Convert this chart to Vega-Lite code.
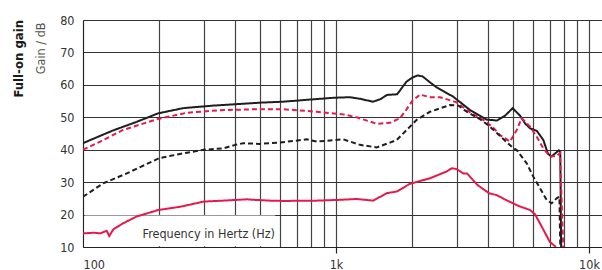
{
  "$schema": "https://vega.github.io/schema/vega-lite/v6.json",
  "width": 519,
  "height": 227,
  "autosize": {"type": "none"},
  "padding": {"left": 83, "top": 20, "right": 0, "bottom": 23},
  "config": {"view": {"stroke": null}, "font": "DejaVu Sans Condensed, Liberation Sans, sans-serif"},
  "title": {"text": "Full-on gain", "orient": "left", "anchor": "end", "frame": "group", "font": "DejaVu Sans Condensed, Liberation Sans, sans-serif", "fontSize": 13, "fontWeight": "bold", "color": "#1a1a1a", "offset": 8},
  "encoding": {
    "x": {
      "type": "quantitative",
      "scale": {"type": "log", "domain": [100, 11256], "nice": false},
      "axis": {
        "title": null,
        "values": [100, 200, 300, 400, 500, 600, 700, 800, 900, 1000, 2000, 3000, 4000, 5000, 6000, 7000, 8000, 9000, 10000],
        "grid": true, "gridColor": "#444", "gridWidth": 1.2,
        "domain": true, "domainColor": "#222",
        "ticks": true, "tickColor": "#222", "tickSize": 6, "tickWidth": 1.2,
        "tickOpacity": {"condition": {"test": "datum.value == 1000 || datum.value == 10000", "value": 1}, "value": 0},
        "labelExpr": "datum.value == 100 ? '100' : datum.value == 1000 ? '1k' : datum.value == 10000 ? '10k' : ''",
        "labelOverlap": false, "labelFontSize": 12.5, "labelColor": "#333", "labelPadding": 5
      }
    },
    "y": {
      "type": "quantitative",
      "scale": {"domain": [10, 80], "nice": false, "zero": false},
      "axis": {
        "values": [10, 20, 30, 40, 50, 60, 70, 80],
        "grid": true, "gridColor": "#333", "gridWidth": 1,
        "domain": true, "domainColor": "#222", "ticks": false,
        "labelFontSize": 12.5, "labelColor": "#333", "labelPadding": 9, "labelOverlap": false,
        "title": "Gain / dB", "titleFontSize": 12.5, "titleFontWeight": "normal", "titleColor": "#555",
        "titleAngle": 270, "titleX": -43, "titleY": 2, "titleAlign": "right", "titleBaseline": "middle"
      }
    }
  },
  "layer": [
    {
      "data": {"values": [{"f": 101.5, "f2": 575, "g": 10.25, "g2": 19.75}]},
      "mark": {"type": "rect", "fill": "white"},
      "encoding": {
        "x": {"field": "f"},
        "x2": {"field": "f2"},
        "y": {"field": "g"},
        "y2": {"field": "g2"}
      }
    },
    {
      "data": {"values": [
        {"s": "A", "f": 100, "g": 42}, {"s": "A", "f": 107, "g": 43}, {"s": "A", "f": 131, "g": 45.9}, {"s": "A", "f": 163, "g": 48.6}, {"s": "A", "f": 198, "g": 51.2}, {"s": "A", "f": 248, "g": 52.8}, {"s": "A", "f": 326, "g": 53.6}, {"s": "A", "f": 500, "g": 54.5}, {"s": "A", "f": 617, "g": 54.8}, {"s": "A", "f": 800, "g": 55.5}, {"s": "A", "f": 973, "g": 56.0}, {"s": "A", "f": 1131, "g": 56.2}, {"s": "A", "f": 1245, "g": 55.7}, {"s": "A", "f": 1400, "g": 54.8}, {"s": "A", "f": 1500, "g": 55.6}, {"s": "A", "f": 1590, "g": 56.9}, {"s": "A", "f": 1745, "g": 57.1}, {"s": "A", "f": 1900, "g": 61}, {"s": "A", "f": 2000, "g": 62.2}, {"s": "A", "f": 2100, "g": 62.9}, {"s": "A", "f": 2200, "g": 62.6}, {"s": "A", "f": 2350, "g": 60.8}, {"s": "A", "f": 2500, "g": 59.2}, {"s": "A", "f": 2900, "g": 56.4}, {"s": "A", "f": 3380, "g": 52.3}, {"s": "A", "f": 3940, "g": 49.3}, {"s": "A", "f": 4330, "g": 49.0}, {"s": "A", "f": 4660, "g": 50.5}, {"s": "A", "f": 4990, "g": 52.8}, {"s": "A", "f": 5340, "g": 50.5}, {"s": "A", "f": 5600, "g": 48.0}, {"s": "A", "f": 5850, "g": 46.6}, {"s": "A", "f": 6220, "g": 45.8}, {"s": "A", "f": 6600, "g": 43.0}, {"s": "A", "f": 6880, "g": 38.8}, {"s": "A", "f": 7100, "g": 37.9}, {"s": "A", "f": 7600, "g": 39.8}, {"s": "A", "f": 7700, "g": 39.5}, {"s": "A", "f": 7760, "g": 10},
        {"s": "B", "f": 100, "g": 40}, {"s": "B", "f": 117, "g": 42.5}, {"s": "B", "f": 144, "g": 46.1}, {"s": "B", "f": 196, "g": 49.4}, {"s": "B", "f": 257, "g": 51.4}, {"s": "B", "f": 348, "g": 52.2}, {"s": "B", "f": 500, "g": 52.5}, {"s": "B", "f": 617, "g": 52.5}, {"s": "B", "f": 839, "g": 51.7}, {"s": "B", "f": 1066, "g": 50.9}, {"s": "B", "f": 1207, "g": 50.0}, {"s": "B", "f": 1448, "g": 48.0}, {"s": "B", "f": 1635, "g": 48.3}, {"s": "B", "f": 1790, "g": 49.7}, {"s": "B", "f": 1903, "g": 52.5}, {"s": "B", "f": 2000, "g": 55.0}, {"s": "B", "f": 2148, "g": 57.0}, {"s": "B", "f": 2352, "g": 56.2}, {"s": "B", "f": 2577, "g": 56.2}, {"s": "B", "f": 3000, "g": 54.6}, {"s": "B", "f": 3390, "g": 51.5}, {"s": "B", "f": 3820, "g": 49.2}, {"s": "B", "f": 4184, "g": 46.8}, {"s": "B", "f": 4450, "g": 44.5}, {"s": "B", "f": 4873, "g": 42.5}, {"s": "B", "f": 5180, "g": 46.1}, {"s": "B", "f": 5420, "g": 49.7}, {"s": "B", "f": 5850, "g": 47.1}, {"s": "B", "f": 6215, "g": 44.0}, {"s": "B", "f": 6600, "g": 40.4}, {"s": "B", "f": 7000, "g": 38.0}, {"s": "B", "f": 7450, "g": 38.0}, {"s": "B", "f": 7680, "g": 39.0}, {"s": "B", "f": 7913, "g": 10},
        {"s": "C", "f": 100, "g": 25.5}, {"s": "C", "f": 120, "g": 29.6}, {"s": "C", "f": 149, "g": 32.7}, {"s": "C", "f": 200, "g": 37.4}, {"s": "C", "f": 242, "g": 38.7}, {"s": "C", "f": 300, "g": 40}, {"s": "C", "f": 358, "g": 40.4}, {"s": "C", "f": 400, "g": 41.5}, {"s": "C", "f": 430, "g": 42}, {"s": "C", "f": 500, "g": 41.8}, {"s": "C", "f": 600, "g": 42.2}, {"s": "C", "f": 766, "g": 43.2}, {"s": "C", "f": 839, "g": 42.5}, {"s": "C", "f": 1069, "g": 43.2}, {"s": "C", "f": 1244, "g": 41.5}, {"s": "C", "f": 1448, "g": 40.7}, {"s": "C", "f": 1635, "g": 42.2}, {"s": "C", "f": 1738, "g": 43}, {"s": "C", "f": 1903, "g": 46.1}, {"s": "C", "f": 2084, "g": 49.2}, {"s": "C", "f": 2352, "g": 51.7}, {"s": "C", "f": 2500, "g": 52.4}, {"s": "C", "f": 2822, "g": 53.8}, {"s": "C", "f": 3050, "g": 53.6}, {"s": "C", "f": 3286, "g": 51.7}, {"s": "C", "f": 3709, "g": 49.4}, {"s": "C", "f": 4062, "g": 47.1}, {"s": "C", "f": 4450, "g": 44.2}, {"s": "C", "f": 5000, "g": 40.6}, {"s": "C", "f": 5180, "g": 39.9}, {"s": "C", "f": 5674, "g": 35.8}, {"s": "C", "f": 6024, "g": 31.7}, {"s": "C", "f": 6805, "g": 24.5}, {"s": "C", "f": 7120, "g": 23.5}, {"s": "C", "f": 7450, "g": 25}, {"s": "C", "f": 7640, "g": 25.5}, {"s": "C", "f": 7700, "g": 10},
        {"s": "D", "f": 100, "g": 14.2}, {"s": "D", "f": 110, "g": 14.4}, {"s": "D", "f": 117, "g": 14.2}, {"s": "D", "f": 124, "g": 15}, {"s": "D", "f": 127, "g": 13.4}, {"s": "D", "f": 132, "g": 15.5}, {"s": "D", "f": 144, "g": 17.3}, {"s": "D", "f": 163, "g": 19.4}, {"s": "D", "f": 198, "g": 21.4}, {"s": "D", "f": 242, "g": 22.4}, {"s": "D", "f": 300, "g": 24.0}, {"s": "D", "f": 358, "g": 24.3}, {"s": "D", "f": 444, "g": 24.7}, {"s": "D", "f": 485, "g": 24.5}, {"s": "D", "f": 549, "g": 24.3}, {"s": "D", "f": 617, "g": 24.2}, {"s": "D", "f": 839, "g": 24.3}, {"s": "D", "f": 1006, "g": 24.5}, {"s": "D", "f": 1207, "g": 24.8}, {"s": "D", "f": 1404, "g": 24.3}, {"s": "D", "f": 1586, "g": 26.6}, {"s": "D", "f": 1738, "g": 27.1}, {"s": "D", "f": 1961, "g": 29.5}, {"s": "D", "f": 2352, "g": 31.2}, {"s": "D", "f": 2738, "g": 33.3}, {"s": "D", "f": 2874, "g": 34.3}, {"s": "D", "f": 3000, "g": 34.0}, {"s": "D", "f": 3186, "g": 32.7}, {"s": "D", "f": 3295, "g": 32.7}, {"s": "D", "f": 3626, "g": 29.1}, {"s": "D", "f": 4024, "g": 26.6}, {"s": "D", "f": 4316, "g": 26.0}, {"s": "D", "f": 4698, "g": 24.5}, {"s": "D", "f": 5290, "g": 22.6}, {"s": "D", "f": 5850, "g": 21.4}, {"s": "D", "f": 6117, "g": 20.1}, {"s": "D", "f": 6502, "g": 16.3}, {"s": "D", "f": 7000, "g": 11.6}, {"s": "D", "f": 7400, "g": 10}
      ]},
      "mark": {"type": "line", "strokeWidth": 2, "clip": true},
      "encoding": {
        "x": {"field": "f"},
        "y": {"field": "g"},
        "color": {"field": "s", "type": "nominal", "scale": {"domain": ["A", "B", "C", "D"], "range": ["#1e1e1e", "#e5194c", "#1e1e1e", "#e5194c"]}, "legend": null},
        "strokeDash": {"field": "s", "type": "nominal", "scale": {"domain": ["A", "B", "C", "D"], "range": [[1, 0], [5, 3], [5, 3], [1, 0]]}, "legend": null}
      }
    },
    {
      "data": {"values": [{"label": "Frequency in Hertz (Hz)", "f": 172, "g": 12.7}]},
      "mark": {"type": "text", "align": "left", "baseline": "alphabetic", "fontSize": 12.5, "color": "#333"},
      "encoding": {
        "x": {"field": "f"},
        "y": {"field": "g"},
        "text": {"field": "label"}
      }
    }
  ]
}
